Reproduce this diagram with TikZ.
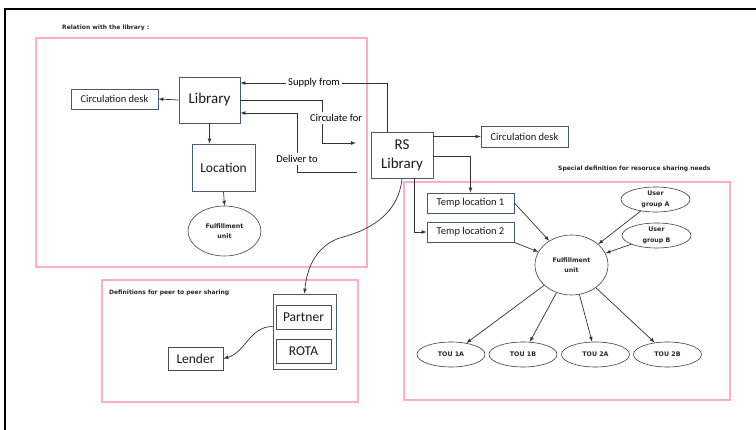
\documentclass[tikz,border=0pt]{standalone}
\usepackage{fontspec}
\setmainfont{Carlito}
\newfontfamily\smallsans{DejaVu Sans}
\usetikzlibrary{shapes,arrows,positioning,calc}
\definecolor{pinkline}{HTML}{FFADC8}
\definecolor{slate}{HTML}{465A75}
\definecolor{inkgray}{HTML}{333333}

\begin{document}
\begin{tikzpicture}[x=1pt,y=-1pt,>=latex,
    box/.style={draw=slate,line width=0.8pt,rectangle,inner sep=0pt,text=black!90,font=\fontsize{10.5}{12}\selectfont},
    bigbox/.style={box,font=\fontsize{13.5}{16}\selectfont},
    greybox/.style={bigbox,draw=black!70},
    oval/.style={draw=black!75,line width=0.6pt,ellipse,inner sep=0pt,align=center,text=black!85,font=\smallsans\bfseries\fontsize{6.3}{10.5}\selectfont},
    lbl/.style={inner sep=2pt,font=\fontsize{10.5}{12}\selectfont},
    ttl/.style={anchor=west,inner sep=0pt,text=black!85,font=\smallsans\bfseries\fontsize{6}{8}\selectfont},
    area/.style={draw=pinkline,line width=1.6pt},
    conn/.style={draw=inkgray,line width=0.7pt}]
    \useasboundingbox (0,0) rectangle (756,430);
    \draw[line width=1.5pt] (756,9) -- (5,9) -- (5,430);

    % areas
    \draw[area] (36,38) rectangle (367,267);
    \draw[area] (102,280) rectangle (358,402);
    \draw[area] (404,182) rectangle (730,400);
    \node[ttl] (ttlrel) at (62,28) {Relation with the library :};
    \node[ttl] (ttlpeer) at (109,293) {Definitions for peer to peer sharing};
    \node[ttl] (ttlspec) at (558,169) {Special definition for resoruce sharing needs};

    % library side
    \node[box,minimum width=61,minimum height=46,font=\fontsize{15}{19}\selectfont] (lib) at (209.5,100) {Library};
    \node[box,minimum width=87,minimum height=20] (cdeskl) at (114.5,99) {Circulation desk};
    \node[bigbox,minimum width=63,minimum height=47] (loc) at (223.5,167.5) {Location};
    \node[oval,minimum width=73,minimum height=50] (fulfl) at (224.5,231) {Fulfillment\\unit};

    \draw[conn,->] (lib.west) -- (cdeskl.east);
    \draw[conn,->] (lib.south) -- (lib.south |- loc.north);
    \draw[conn,->] (loc.south) -- (fulfl.north);

    % RS library
    \node[box,minimum width=62,minimum height=46,align=center,font=\fontsize{15}{19}\selectfont] (rslib) at (402,155) {RS\\Library};
    \node[box,minimum width=87,minimum height=21] (cdeskr) at (524.5,136.5) {Circulation desk};

    \node[lbl] (supply) at (314,83) {Supply from};
    \node[lbl] (circ) at (336,118) {Circulate for};
    \node[lbl] (deliver) at (297,159) {Deliver to};
    \coordinate (circend) at (356,143);
    \coordinate (delstart) at (357,172);

    \draw[conn] ($(rslib.north west)+(17,0)$) |- (supply.east);
    \draw[conn,->] (supply.west) -- (supply.west -| lib.east);
    \draw[conn] (lib.east) -| ($(circ.north)+(-14,0)$);
    \draw[conn,->] ($(circ.south)+(-14,0)$) |- (circend);
    \draw[conn] (delstart) -| (deliver.south);
    \draw[conn,->] (deliver.north) |- ($(lib.east)+(0,13)$);

    % resource sharing
    \node[box,minimum width=87,minimum height=20] (temp1) at (470.5,203) {Temp location 1};
    \node[box,minimum width=87,minimum height=20] (temp2) at (470.5,232) {Temp location 2};
    \node[oval,minimum width=69,minimum height=25] (uga) at (655.5,199.5) {User\\group A};
    \node[oval,minimum width=69,minimum height=25] (ugb) at (656.5,235.5) {User\\group B};
    \node[oval,minimum width=73,minimum height=60] (fulfr) at (571.5,265) {Fulfillment\\unit};
    \node[oval,minimum width=68,minimum height=25] (tou1a) at (451,354.5) {TOU 1A};
    \node[oval,minimum width=68,minimum height=25] (tou1b) at (523,354.5) {TOU 1B};
    \node[oval,minimum width=68,minimum height=25] (tou2a) at (595.5,354.5) {TOU 2A};
    \node[oval,minimum width=68,minimum height=25] (tou2b) at (667.5,354.5) {TOU 2B};

    \draw[conn,->] (rslib.east |- cdeskr.west) -- (cdeskr.west);
    \draw[conn,->] ($(rslib.east)+(0,1)$) -| (temp1.north);
    \draw[conn,->] ($(rslib.south)+(12,0)$) |- (temp2.west);
    \draw[conn,->] (temp1.east) -- (fulfr);
    \draw[conn,->] (temp2.south east) -- (fulfr);
    \draw[conn,->] (uga) -- (fulfr);
    \draw[conn,->] (ugb) -- (fulfr);
    \draw[conn,->] (fulfr) -- (tou1a);
    \draw[conn,->] (fulfr) -- (tou1b);
    \draw[conn,->] (fulfr) -- (tou2a);
    \draw[conn,->] (fulfr) -- (tou2b);

    % peer to peer
    \node[box,minimum width=63,minimum height=75] (grp) at (304.5,331.5) {};
    \node[greybox,minimum width=55,minimum height=24] (partner) at (303.5,317) {Partner};
    \node[greybox,minimum width=55,minimum height=24] (rota) at (303.5,351) {ROTA};
    \node[greybox,minimum width=55,minimum height=23] (lender) at (195.5,358.5) {Lender};
    \coordinate (rsbend) at (343,237);

    \draw[conn,->] (rslib.south) to[out=-95,in=15] (rsbend) to[out=195,in=85] (grp.north);
    \draw[conn,->] ($(grp.west)+(0,-5)$) to[out=180,in=15] (lender.east);
\end{tikzpicture}
\end{document}
